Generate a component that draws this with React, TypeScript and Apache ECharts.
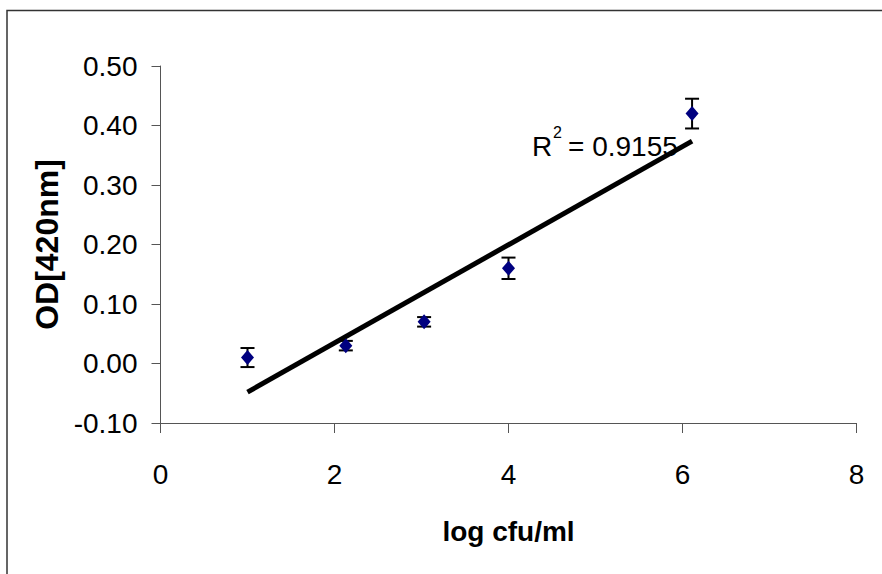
import React, { useEffect, useRef } from "react";
import * as echarts from "echarts";

const xValues = [1.0, 2.13, 3.03, 4.0, 6.11];
const yValues = [0.01, 0.03, 0.07, 0.16, 0.42];
const errValues = [0.016, 0.008, 0.008, 0.018, 0.025];
const xTicks = { min: 0, max: 8, interval: 2 };
const yTicks = { min: -0.1, max: 0.5, interval: 0.1 };
const xTitle = "log cfu/ml";
const yTitle = "OD[420nm]";
const r2Label = "0.9155";

const FONT = "'Liberation Sans', Arial, sans-serif";

function regression(xs: number[], ys: number[]) {
  const n = xs.length;
  const mx = xs.reduce((a, b) => a + b, 0) / n;
  const my = ys.reduce((a, b) => a + b, 0) / n;
  let sxy = 0, sxx = 0;
  for (let i = 0; i < n; i++) {
    sxy += (xs[i] - mx) * (ys[i] - my);
    sxx += (xs[i] - mx) * (xs[i] - mx);
  }
  const slope = sxy / sxx;
  return { slope, intercept: my - slope * mx };
}

export default function App() {
  const ref = useRef<HTMLDivElement>(null);
  useEffect(() => {
    if (!ref.current) return;
    const chart = echarts.init(ref.current, null, { renderer: "svg" });
    const { slope, intercept } = regression(xValues, yValues);
    const xMin = Math.min(...xValues);
    const xMax = Math.max(...xValues);
    const trend = [
      [xMin, intercept + slope * xMin],
      [xMax, intercept + slope * xMax],
    ];
    const points = xValues.map((x, i) => [x, yValues[i]]);
    const errData = xValues.map((x, i) => [x, yValues[i] - errValues[i], yValues[i] + errValues[i]]);

    chart.setOption({
      animation: false,
      backgroundColor: "#fff",
      grid: { left: 160.5, right: 25.5, top: 66, bottom: 151, containLabel: false },
      xAxis: {
        type: "value",
        min: xTicks.min,
        max: xTicks.max,
        interval: xTicks.interval,
        name: xTitle,
        nameLocation: "middle",
        nameGap: 94,
        nameTextStyle: { fontFamily: FONT, fontWeight: "bold", fontSize: 28, color: "#000" },
        axisLine: { show: true, onZero: false, lineStyle: { color: "#555", width: 1 } },
        axisTick: { show: true, inside: false, length: 10, lineStyle: { color: "#555" } },
        axisLabel: { fontFamily: FONT, fontSize: 28, color: "#000", margin: 37 },
        splitLine: { show: false },
      },
      yAxis: {
        type: "value",
        min: yTicks.min,
        max: yTicks.max,
        interval: yTicks.interval,
        name: yTitle,
        nameLocation: "middle",
        nameRotate: 90,
        nameGap: 98,
        nameTextStyle: { fontFamily: FONT, fontWeight: "bold", fontSize: 32, color: "#000" },
        axisLine: { show: true, onZero: false, lineStyle: { color: "#555", width: 1 } },
        axisTick: { show: true, inside: false, length: 9, lineStyle: { color: "#555" } },
        axisLabel: {
          fontFamily: FONT,
          fontSize: 28,
          color: "#000",
          margin: 23,
          formatter: (v: number) => v.toFixed(2),
        },
        splitLine: { show: false },
      },
      graphic: [
        {
          type: "rect",
          shape: { x: 7, y: 10.5, width: 900, height: 600 },
          style: { fill: "none", stroke: "#333", lineWidth: 1.5 },
          silent: true,
        },
        {
          type: "text",
          x: 532,
          y: 160,
          style: { text: "R", fontFamily: FONT, fontSize: 28, fill: "#000", verticalAlign: "bottom" },
        },
        {
          type: "text",
          x: 553,
          y: 140,
          style: { text: "2", fontFamily: FONT, fontSize: 16, fill: "#000", verticalAlign: "bottom" },
        },
        {
          type: "text",
          x: 568,
          y: 160,
          style: { text: "= " + r2Label, fontFamily: FONT, fontSize: 28, fill: "#000", verticalAlign: "bottom" },
        },
      ],
      series: [
        {
          type: "line",
          data: trend,
          showSymbol: false,
          symbol: "none",
          lineStyle: { color: "#000", width: 5 },
          z: 2,
        },
        {
          type: "custom",
          data: errData,
          z: 3,
          renderItem: (params: any, api: any) => {
            const x = api.value(0);
            const lo = api.coord([x, api.value(1)]);
            const hi = api.coord([x, api.value(2)]);
            const half = 7;
            const style = { stroke: "#000", lineWidth: 2 };
            return {
              type: "group",
              children: [
                { type: "line", shape: { x1: lo[0], y1: lo[1], x2: hi[0], y2: hi[1] }, style },
                { type: "line", shape: { x1: lo[0] - half, y1: lo[1], x2: lo[0] + half, y2: lo[1] }, style },
                { type: "line", shape: { x1: hi[0] - half, y1: hi[1], x2: hi[0] + half, y2: hi[1] }, style },
              ],
            };
          },
        },
        {
          type: "scatter",
          data: points,
          symbol: "diamond",
          symbolSize: [13, 15],
          itemStyle: { color: "#000080", opacity: 1 },
          z: 4,
        },
      ],
    });
    return () => chart.dispose();
  }, []);
  return (
    <div
      ref={ref}
      style={{ position: "absolute", left: 0, top: 0, width: 882, height: 574 }}
    />
  );
}
